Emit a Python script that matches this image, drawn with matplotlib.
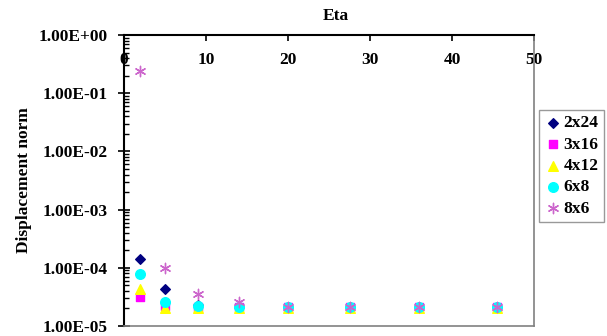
import matplotlib
matplotlib.use('Agg')
import matplotlib.pyplot as plt
from matplotlib.ticker import FixedLocator, LogLocator, NullFormatter

plt.rcParams['font.family'] = ['Liberation Serif', 'DejaVu Serif']
plt.rcParams['font.weight'] = 'bold'

eta = [2, 5, 9, 14, 20, 27.5, 36, 45.5]

s_2x24 = [1.39e-4, 4.3e-5, 2.3e-5, 2.1e-5, 2.1e-5, 2.1e-5, 2.1e-5, 2.1e-5]
s_3x16 = [3.1e-5, 2.2e-5, 2.1e-5, 2.1e-5, 2.1e-5, 2.1e-5, 2.1e-5, 2.1e-5]
s_4x12 = [4.3e-5, 2.05e-5, 2.05e-5, 2.05e-5, 2.05e-5, 2.05e-5, 2.05e-5, 2.05e-5]
s_6x8 = [7.7e-5, 2.6e-5, 2.25e-5, 2.1e-5, 2.1e-5, 2.1e-5, 2.1e-5, 2.1e-5]
s_8x6 = [0.245, 1.0e-4, 3.6e-5, 2.6e-5, 2.1e-5, 2.1e-5, 2.1e-5, 2.1e-5]

labels = ['2x24', '3x16', '4x12', '6x8', '8x6']
ytick_labels = ['1.00E-05', '1.00E-04', '1.00E-03', '1.00E-02', '1.00E-01', '1.00E+00']

fs = 12.5

fig = plt.figure(figsize=(6.07, 3.36), dpi=100)
ax = fig.add_axes([124/607, 1 - 326/336, (534 - 124)/607, (326 - 35)/336])

ax.scatter(eta, s_2x24, marker='D', s=24, color='#000080', label=labels[0], zorder=3)
ax.scatter(eta, s_3x16, marker='s', s=38, color='#ff00ff', label=labels[1], zorder=3)
ax.scatter(eta, s_4x12, marker='^', s=48, color='#ffff00', label=labels[2], zorder=3)
ax.scatter(eta, s_6x8, marker='o', s=48, color='#00ffff', label=labels[3], zorder=3)
ax.scatter(eta, s_8x6, marker=(6, 2, 0), s=55, color='#cc66cc', linewidths=1,
           label=labels[4], zorder=4)

ax.set_yscale('log')
ax.set_ylim(1e-5, 1)
ax.set_xlim(0, 50)

ax.yaxis.set_major_locator(FixedLocator([1e-5, 1e-4, 1e-3, 1e-2, 1e-1, 1]))
ax.set_yticklabels(ytick_labels)
ax.yaxis.set_minor_locator(LogLocator(base=10, subs=range(2, 10)))
ax.yaxis.set_minor_formatter(NullFormatter())
ax.tick_params(axis='y', which='major', direction='inout', length=9, width=1.2,
               labelsize=fs, pad=7)
ax.tick_params(axis='y', which='minor', direction='in', length=3.5, width=1)

ax.set_xticks([0, 10, 20, 30, 40, 50])
ax.tick_params(axis='x', bottom=False, labelbottom=False, top=True, labeltop=True,
               direction='in', length=4, width=1.2, labelsize=fs, pad=-24)

for side in ['left', 'top']:
    ax.spines[side].set_color('black')
    ax.spines[side].set_linewidth(1.5)
for side in ['right', 'bottom']:
    ax.spines[side].set_color('#808080')
    ax.spines[side].set_linewidth(1.2)

ax.set_ylabel('Displacement norm', fontsize=fs, fontweight='bold', labelpad=5)
fig.text(336/607, 1 - 16/336, 'Eta', ha='center', va='center', fontsize=fs,
         fontweight='bold')

leg = fig.legend(loc='upper left', bbox_to_anchor=(539/607, 1 - 110/336),
                 frameon=True, fancybox=False, edgecolor='#808080', fontsize=fs,
                 handletextpad=0.1, handlelength=1.0, borderpad=0.3, labelspacing=0.3,
                 borderaxespad=0)
leg.get_frame().set_linewidth(1)

fig.savefig('out.png', dpi=100)
